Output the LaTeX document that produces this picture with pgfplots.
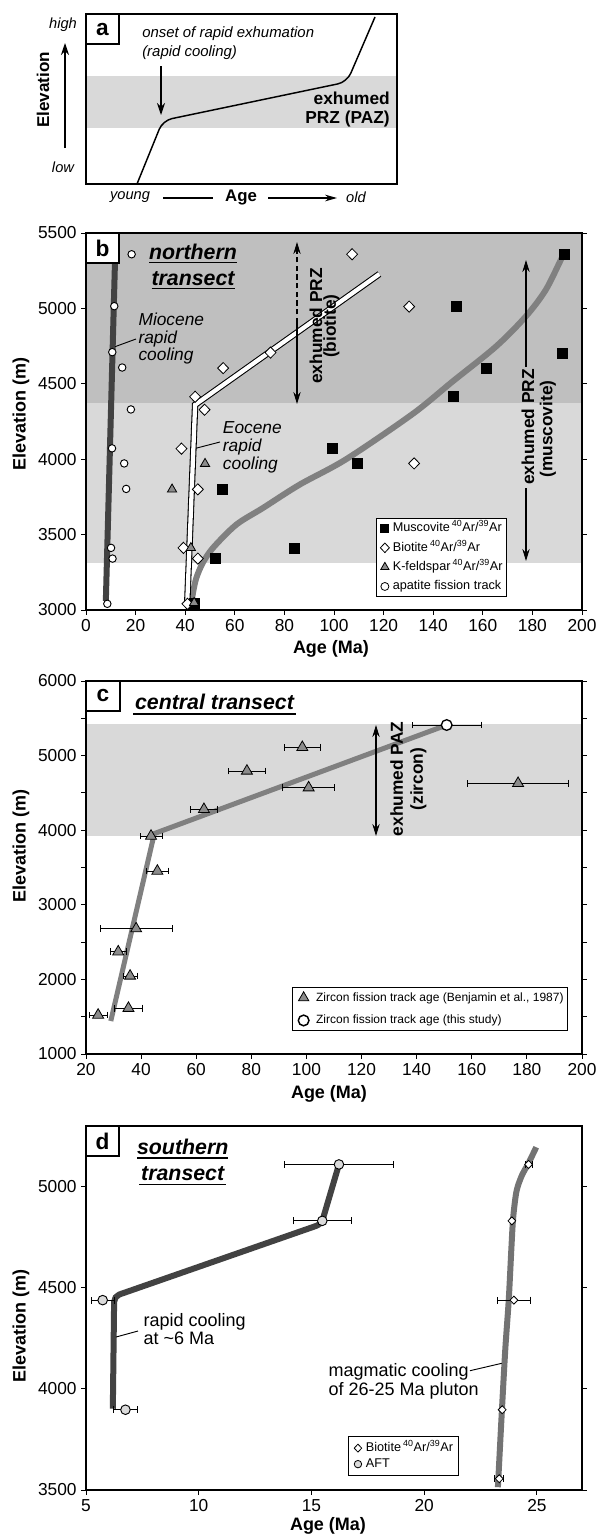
\documentclass[border=0pt]{standalone}
\usepackage{fontspec}
\setmainfont{Liberation Sans}
\usepackage{pgfplots}
\pgfplotsset{compat=1.18}
\usetikzlibrary{arrows.meta}
\definecolor{shL}{gray}{0.85}
\definecolor{shD}{gray}{0.75}
\definecolor{lnG}{gray}{0.5}
\definecolor{lnM}{gray}{0.45}
\definecolor{lnD}{gray}{0.26}
\definecolor{triG}{gray}{0.55}
\definecolor{aftG}{gray}{0.86}
\newcommand{\fs}[1]{\fontsize{#1}{#1}\selectfont}
\newcommand{\ArAr}{\,\textsuperscript{40}Ar/\textsuperscript{39}Ar}
\pgfplotsset{
  panel/.style={
    scale only axis, anchor=north west, clip=false, axis on top,
    width=372pt,
    axis line style={line width=0.8pt},
    every tick/.style={black, line width=0.7pt},
    tick align=outside,
    major tick length=3.5pt, minor tick length=3.5pt,
    tick label style={font=\fs{13}},
    /pgf/number format/assume math mode=true,
    /pgf/number format/1000 sep={},
    xtick pos=left, ytick pos=both, yticklabel pos=left,
    legend cell align=left,
  },
  mylegimg/.style={legend image code/.code={\path (0cm,0cm) (0.3cm,0cm); \draw[##1] plot coordinates {(0.14cm,0cm)};}},
  mylegimgc/.style={legend image code/.code={\path (0cm,0cm) (0.5cm,0cm); \draw[##1] plot coordinates {(0.22cm,0cm)};}},
  errx/.style={error bars/.cd, x dir=both, x explicit,
    error bar style={black, line width=0.6pt},
    error mark options={rotate=90, black, mark size=2.6pt, line width=0.6pt}},
}
\begin{document}
\begin{tikzpicture}
\useasboundingbox (0,0) rectangle (448.5pt,-1151.25pt);

% ---------------- panel a ----------------
\begin{axis}[panel, at={(64.5pt,-10.5pt)}, width=233.25pt, height=127.5pt,
  xmin=0, xmax=311, ymin=0, ymax=170, xtick=\empty, ytick=\empty]
\addplot[draw=none, fill=shL, forget plot] coordinates {(0,56) (311,56) (311,108) (0,108)} -- cycle;
\addplot[black, line width=1.1pt, rounded corners=7pt, forget plot] coordinates {(51,0) (76.8,63.5) (261,102) (289,167)};
\end{axis}

% ---------------- panel b ----------------
\begin{axis}[panel, at={(64.5pt,-174.75pt)}, height=282.75pt,
  xmin=0, xmax=200, ymin=3000, ymax=5500,
  xtick={0,20,...,200}, ytick={3000,3500,...,5500},
  legend style={at={(rel axis cs:0.849,0.0345)}, anchor=south east, font=\fs{9.5},
    draw=black, line width=0.8pt, fill=white, inner sep=2pt, row sep=3.5pt,
    nodes={inner sep=1pt, text height=7pt, text depth=2pt}},
]
\addplot[draw=none, fill=shL, forget plot] coordinates {(0,3315)(200,3315)(200,4370)(0,4370)} -- cycle;
\addplot[draw=none, fill=shD, forget plot] coordinates {(0,4370)(200,4370)(200,5500)(0,5500)} -- cycle;
\addplot[lnD, line width=4.5pt, forget plot] coordinates {(12.0,5500)(8.0,3060)};
\addplot[lnG, line width=4.5pt, smooth, forget plot] coordinates {(42.5,3040)(43.2,3120)(44.5,3213)(47,3310)(51.2,3412)(60.6,3566)(71.4,3677)(86.1,3831)(104.9,4000)(131.7,4300)(147.8,4515)(165.3,4747)(177.3,4946)(185.4,5123)(192.1,5343)(193.7,5376)};
\addplot[black, line width=0.8pt, double=white, double distance=3.2pt, forget plot] coordinates {(40.8,3041)(44.0,4361)(118.3,5228)};
\addplot[only marks, mark=square*, mark size=3.75pt, black, forget plot] coordinates {(43.5,3045)(52.3,3341)(55.0,3800)(83.8,3412)(99.5,4070)(109.5,3970)(148.2,4416)(161.5,4606)(149.3,5012)(191.9,4705)(192.9,5359)};
\addplot[only marks, mark=diamond*, mark size=4.2pt, mark options={fill=white, draw=black, line width=0.6pt, xscale=1.3}, forget plot] coordinates {(107.3,5359)(130.3,5012)(74.4,4707)(55.3,4604)(44.0,4414)(47.8,4328)(38.5,4070)(45.1,3800)(132.3,3972)(39.3,3412)(45.1,3341)(40.9,3041)};
\addplot[only marks, mark=triangle*, mark size=4pt, mark options={fill=triG, draw=black, line width=0.6pt}, forget plot] coordinates {(48.0,3970)(34.7,3800)(42.3,3412)(43.6,3048)};
\addplot[only marks, mark=*, mark size=2.8pt, mark options={fill=white, draw=black, line width=0.7pt}, forget plot] coordinates {(18.4,5359)(11.4,5015)(10.6,4710)(14.6,4608)(18.1,4330)(10.5,4072)(15.4,3972)(16.2,3803)(10.1,3412)(10.7,3341)(8.6,3041)};
\addlegendimage{only marks, mark=square*, mark size=3pt, black, mylegimg}
\addlegendentry{Muscovite\ArAr}
\addlegendimage{only marks, mark=diamond*, mark size=3.6pt, mark options={fill=white, draw=black, line width=0.6pt, xscale=1.25}, mylegimg}
\addlegendentry{Biotite\ArAr}
\addlegendimage{only marks, mark=triangle*, mark size=3.6pt, mark options={fill=triG, draw=black, line width=0.6pt}, mylegimg}
\addlegendentry{K-feldspar\ArAr}
\addlegendimage{only marks, mark=*, mark size=3pt, mark options={fill=white, draw=black, line width=0.6pt}, mylegimg}
\addlegendentry{apatite fission track}
\end{axis}

% ---------------- panel c ----------------
\begin{axis}[panel, at={(64.5pt,-510.75pt)}, height=279.75pt,
  xmin=20, xmax=200, ymin=1000, ymax=6000,
  xtick={20,40,...,200}, ytick={1000,2000,...,6000}, minor ytick={1500,2500,...,5500},
  legend style={at={(rel axis cs:0.972,0.0617)}, anchor=south east, font=\fs{9},
    draw=black, line width=0.8pt, fill=white, inner sep=2pt, row sep=6pt,
    nodes={inner sep=1pt, text height=7pt, text depth=2pt}},
]
\addplot[draw=none, fill=shL, forget plot] coordinates {(20,3922)(200,3922)(200,5424)(20,5424)} -- cycle;
\addplot[lnG, line width=3.75pt, forget plot] coordinates {(29.0,1442)(44.8,3955)(150.9,5410)};
\addplot[only marks, mark=triangle*, mark size=4.75pt, mark options={fill=triG, draw=black, line width=0.6pt}, forget plot, errx] coordinates {
(43.6,3922) +- (4,0)
(45.9,3453) +- (4,0)
(38.2,2680) +- (13,0)
(31.7,2371) +- (3,0)
(36.0,2046) +- (2.5,0)
(35.4,1614) +- (5,0)
(24.4,1523) +- (3.3,0)
(62.8,4280) +- (4.8,0)
(78.4,4794) +- (6.8,0)
(98.5,5111) +- (6.4,0)
(100.8,4570) +- (9.4,0)
(176.8,4629) +- (18.3,0)
};
\addplot[only marks, mark=*, mark size=4pt, mark options={fill=white, draw=black, line width=1pt}, forget plot, errx] coordinates {(150.9,5410) +- (12.6,0)};
\addlegendimage{only marks, mark=triangle*, mark size=4.5pt, mark options={fill=triG, draw=black, line width=0.6pt}, mylegimgc}
\addlegendentry{Zircon fission track age (Benjamin et al., 1987)}
\addlegendimage{only marks, mark=*, mark size=4pt, mark options={fill=white, draw=black, line width=1.1pt}, mylegimgc}
\addlegendentry{Zircon fission track age (this study)}
\end{axis}

% ---------------- panel d ----------------
\begin{axis}[panel, at={(64.5pt,-844.5pt)}, height=273pt,
  xmin=5, xmax=27, ymin=3500, ymax=5300,
  xtick={5,10,...,25}, ytick={3500,4000,4500,5000},
  legend style={at={(rel axis cs:0.752,0.0385)}, anchor=south east, font=\fs{9.5},
    draw=black, line width=0.8pt, fill=white, inner sep=3pt, row sep=1pt,
    nodes={inner sep=1pt, text height=7pt, text depth=2pt}},
]
\addplot[lnM, line width=4.5pt, smooth, forget plot] coordinates {(23.27,3514)(23.45,3900)(23.6,4200)(23.75,4439)(23.87,4700)(23.95,4850)(24.1,4980)(24.35,5060)(24.6,5110)(24.97,5195)};
\addplot[lnD, line width=4.5pt, rounded corners=4pt, forget plot] coordinates {(6.19,3902)(6.25,4458)(15.44,4815)(16.22,5110)};
\addplot[only marks, mark=*, mark size=3.6pt, mark options={fill=aftG, draw=black, line width=0.7pt}, forget plot, errx] coordinates {
(5.74,4439) +- (0.52,0)
(6.75,3897) +- (0.55,0)
(16.22,5110) +- (2.43,0)
(15.48,4831) +- (1.3,0)
};
\addplot[only marks, mark=diamond*, mark size=3pt, mark options={fill=white, draw=black, line width=0.6pt, xscale=1.3}, forget plot, errx] coordinates {
(24.63,5110) +- (0.15,0)
(23.98,4439) +- (0.75,0)
(23.33,3556) +- (0.2,0)
};
\addplot[only marks, mark=diamond*, mark size=3pt, mark options={fill=white, draw=black, line width=0.6pt, xscale=1.3}, forget plot] coordinates {
(23.89,4831)
(23.46,3897)
};
\addlegendimage{only marks, mark=diamond*, mark size=3pt, mark options={fill=white, draw=black, line width=0.6pt, xscale=1.25}, mylegimg}
\addlegendentry{Biotite\ArAr}
\addlegendimage{only marks, mark=*, mark size=2.8pt, mark options={fill=aftG, draw=black, line width=0.6pt}, mylegimg}
\addlegendentry{AFT}
\end{axis}

% ---------------- annotations (pixel coordinates) ----------------
\begin{scope}[x=0.75pt, y=-0.75pt, every node/.style={inner sep=0pt}]
% panel a
\draw[fill=white, line width=0.8pt] (86,14) rectangle (119,44);
\node[font=\fs{17}\bfseries] at (102.5,29.5) {a};
\node[font=\fs{11}\itshape] at (63,25) {high};
\node[font=\fs{11}\itshape] at (63,167) {low};
\draw[line width=0.8pt, -{Stealth[length=9pt,width=6pt]}] (65,148) -- (65,43);
\node[rotate=90, font=\fs{12.8}\bfseries] at (43,90) {Elevation};
\node[font=\fs{11}\itshape] at (130,197) {young};
\draw[line width=0.8pt] (163,198) -- (213,198);
\node[font=\fs{12.6}\bfseries] at (241,197) {Age};
\draw[line width=0.8pt, -{Stealth[length=9pt,width=5pt]}] (268,198) -- (337,198);
\node[font=\fs{11}\itshape] at (356,197) {old};
\node[anchor=base west, font=\fs{11.2}\itshape] at (142,37.5) {onset of rapid exhumation};
\node[anchor=base west, font=\fs{11.2}\itshape] at (142,56) {(rapid cooling)};
\draw[line width=0.8pt, -{Stealth[length=9pt,width=6pt]}] (161,66) -- (161,115);
\node[anchor=base east, font=\fs{13}\bfseries] at (390,104) {exhumed};
\node[anchor=base east, font=\fs{13}\bfseries] at (390,123) {PRZ (PAZ)};

% panel b
\draw[fill=white, line width=0.8pt] (86,233) rectangle (119,263);
\node[font=\fs{17}\bfseries] at (102.5,248) {b};
\node[anchor=base, font=\fs{16}\bfseries\itshape] at (193,259) {northern};
\draw[line width=1pt] (149.3,262.7) -- (237.3,262.7);
\node[anchor=base, font=\fs{16}\bfseries\itshape] at (193,285) {transect};
\draw[line width=1pt] (151.7,288.5) -- (235,288.5);
\node[anchor=base west, font=\fs{13}\itshape] at (138.3,325) {Miocene};
\node[anchor=base west, font=\fs{13}\itshape] at (138.3,343) {rapid};
\node[anchor=base west, font=\fs{13}\itshape] at (138.3,360.5) {cooling};
\draw[line width=0.7pt] (115,346.7) -- (136,339);
\node[anchor=base west, font=\fs{13}\itshape] at (222.7,433.3) {Eocene};
\node[anchor=base west, font=\fs{13}\itshape] at (222.7,451.5) {rapid};
\node[anchor=base west, font=\fs{13}\itshape] at (222.7,469.3) {cooling};
\draw[line width=0.7pt] (195.7,448.3) -- (220,442);
\draw[line width=0.8pt, dash pattern=on 4pt off 2.5pt, -{Stealth[length=9pt,width=5.5pt]}] (297,323) -- (297,242);
\draw[line width=0.8pt, -{Stealth[length=9pt,width=5.5pt]}] (297,322) -- (297,404);
\node[rotate=90, font=\fs{13}\bfseries] at (316,326) {exhumed PRZ};
\node[rotate=90, font=\fs{13}\bfseries] at (331.5,326) {(biotite)};
\draw[line width=0.8pt, -{Stealth[length=9pt,width=5.5pt]}] (526,367) -- (526,260);
\draw[line width=0.8pt, -{Stealth[length=9pt,width=5.5pt]}] (526,488) -- (526,561);
\node[rotate=90, font=\fs{13}\bfseries] at (528,427) {exhumed PRZ};
\node[rotate=90, font=\fs{13}\bfseries] at (548,429) {(muscovite)};
\node[rotate=90, font=\fs{13.5}\bfseries] at (21,414) {Elevation (m)};
\node[font=\fs{13.5}\bfseries] at (331,649) {Age (Ma)};

% panel c
\draw[fill=white, line width=0.8pt] (86,681) rectangle (120,711);
\node[font=\fs{17}\bfseries] at (103,696) {c};
\node[anchor=base, font=\fs{16}\bfseries\itshape] at (214.5,709) {central transect};
\draw[line width=1pt] (133.3,714) -- (296,714);
\draw[line width=0.8pt, {Stealth[length=9pt,width=5.5pt]}-{Stealth[length=9pt,width=5.5pt]}] (376,725) -- (376,836);
\node[rotate=90, font=\fs{13}\bfseries] at (396.7,779) {exhumed PAZ};
\node[rotate=90, font=\fs{13}\bfseries] at (418.3,779) {(zircon)};
\node[rotate=90, font=\fs{13.5}\bfseries] at (21,846) {Elevation (m)};
\node[font=\fs{13.5}\bfseries] at (329,1094) {Age (Ma)};

% panel d
\draw[fill=white, line width=0.8pt] (86,1126) rectangle (119,1156);
\node[font=\fs{17}\bfseries] at (102.5,1141) {d};
\node[anchor=base, font=\fs{16}\bfseries\itshape] at (182.7,1154) {southern};
\draw[line width=1pt] (137.3,1158) -- (228.3,1158);
\node[anchor=base, font=\fs{16}\bfseries\itshape] at (182.7,1180) {transect};
\draw[line width=1pt] (139,1184.3) -- (226,1184.3);
\node[anchor=base west, font=\fs{13.5}] at (143.3,1326.7) {rapid cooling};
\node[anchor=base west, font=\fs{13.5}] at (143.3,1344) {at \textasciitilde6 Ma};
\draw[line width=0.7pt] (116,1337) -- (138,1331);
\node[anchor=base west, font=\fs{13.5}] at (328.3,1376.7) {magmatic cooling};
\node[anchor=base west, font=\fs{13.5}] at (328.3,1395) {of 26-25 Ma pluton};
\draw[line width=0.7pt] (470,1370.7) -- (501.7,1363.3);
\node[rotate=90, font=\fs{13.5}\bfseries] at (21,1326) {Elevation (m)};
\node[font=\fs{13.5}\bfseries] at (328,1526) {Age (Ma)};
\end{scope}
\end{tikzpicture}
\end{document}
